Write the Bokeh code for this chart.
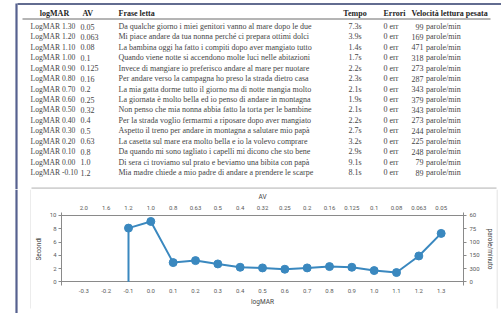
from bokeh.plotting import figure
from bokeh.models import (LinearAxis, Range1d, FixedTicker, ColumnDataSource,
                          NumeralTickFormatter)
from bokeh.layouts import column, row
from bokeh.core.properties import value
from bokeh.embed import file_html
from bokeh.resources import INLINE

# ---------------- data ----------------
logmar = [1.3, 1.2, 1.1, 1.0, 0.9, 0.8, 0.7, 0.6, 0.5, 0.4, 0.3, 0.2, 0.1, 0.0, -0.1]
av = ["0.05", "0.063", "0.08", "0.1", "0.125", "0.16", "0.2", "0.25", "0.32",
      "0.4", "0.5", "0.63", "0.8", "1.0", "1.2"]
sentences = [
    "Da qualche giorno i miei genitori vanno al mare dopo le due",
    "Mi piace andare da tua nonna perché ci prepara ottimi dolci",
    "La bambina oggi ha fatto i compiti dopo aver mangiato tutto",
    "Quando viene notte si accendono molte luci nelle abitazioni",
    "Invece di mangiare io preferisco andare al mare per nuotare",
    "Per andare verso la campagna ho preso la strada dietro casa",
    "La mia gatta dorme tutto il giorno ma di notte mangia molto",
    "La giornata è molto bella ed io penso di andare in montagna",
    "Non penso che mia nonna abbia fatto la torta per le bambine",
    "Per la strada voglio fermarmi a riposare dopo aver mangiato",
    "Aspetto il treno per andare in montagna a salutare mio papà",
    "La casetta sul mare era molto bella e io la volevo comprare",
    "Da quando mi sono tagliato i capelli mi dicono che sto bene",
    "Di sera ci troviamo sul prato e beviamo una bibita con papà",
    "Mia madre chiede a mio padre di andare a prendere le scarpe",
]
tempo = [7.3, 3.9, 1.4, 1.7, 2.2, 2.3, 2.1, 1.9, 2.1, 2.2, 2.7, 3.2, 2.9, 9.1, 8.1]
errori = [0, 0, 0, 0, 0, 0, 0, 0, 0, 0, 0, 0, 0, 0, 0]
velocita = [99, 169, 471, 318, 273, 287, 343, 379, 343, 273, 244, 225, 248, 79, 89]

headers = ["logMAR", "AV", "Frase letta", "Tempo", "Errori", "Velocità lettura pesata"]

logmar_ticks = [-0.3, -0.2, -0.1, 0.0, 0.1, 0.2, 0.3, 0.4, 0.5, 0.6, 0.7, 0.8,
                0.9, 1.0, 1.1, 1.2, 1.3]
av_tick_labels = ["2.0", "1.6", "1.2", "1.0", "0.8", "0.63", "0.5", "0.4", "0.32",
                  "0.25", "0.2", "0.16", "0.125", "0.1", "0.08", "0.063", "0.05"]
sec_ticks = [0, 2, 4, 6, 8, 10]
speed_tick_labels = ["0", "300", "150", "100", "75", "60"]

# ---------------- styles ----------------
BLUE = "#3a88bf"
SERIF = "Liberation Serif"
SANS = "Roboto"
BORDER = "#56618f"
TOPLINE = "#2e3b6b"
BOXLINE = "#d9d9d9"
PAGE_W, PAGE_H = 501, 313
SPLIT_Y = 189          # table / chart boundary
BOX_L, BOX_R, BOX_B = 31, 496, 308


def canvas(w, h, x0, x1, y0, y1):
    f = figure(width=w, height=h, output_backend="svg", toolbar_location=None,
               x_range=Range1d(x0, x1), y_range=Range1d(y1, y0),
               x_axis_location=None, y_axis_location=None, min_border=0)
    f.outline_line_color = None
    f.grid.visible = False
    f.background_fill_color = "white"
    f.border_fill_color = "white"
    return f


# ---------------- table (top) ----------------
tf = canvas(PAGE_W, SPLIT_Y, 0, PAGE_W, 0, SPLIT_Y)
tf.segment(x0=[17, 16], y0=[3.5, 3], x1=[PAGE_W, 16], y1=[3.5, SPLIT_Y],
           line_color=[TOPLINE, BORDER], line_width=[1.6, 2.2])
tf.segment(x0=[22], y0=[18.5], x1=[490], y1=[18.5], line_color="#6a6a6a", line_width=1)
tf.segment(x0=[BOX_L], y0=[188], x1=[BOX_R], y1=[188], line_color="#d2d2d2", line_width=2.5)

ROW0, DROW = 26.0, 10.43
row_y = [ROW0 + i * DROW for i in range(len(logmar))]


def col(texts, X, align="left", size="8px"):
    src = ColumnDataSource(dict(x=[X] * len(texts), y=row_y, t=texts))
    tf.text(x="x", y="y", text="t", source=src, text_font=value(SERIF),
            text_font_size=value(size), text_color="#454545", text_align=align,
            text_baseline="middle")


col([f"LogMAR {v:.2f}" for v in logmar], 30, size="7.6px")
col(av, 80)
col(sentences, 118)
col([f"{t}s" for t in tempo], 354.5, "center")
col([f"{e} err" for e in errori], 383)
col([str(v) for v in velocita], 423, "right")
col(["parole/min" for _ in velocita], 425.5)

head_x = [54, 82, 118, 354.5, 383, 411]
head_align = ["center", "left", "left", "center", "left", "left"]
for txt, X, al in zip(headers, head_x, head_align):
    tf.text(x=[X], y=[12.5], text=[txt], text_font=value(SERIF),
            text_font_size=value("8px"), text_font_style="bold",
            text_color="#1e1e1e", text_align=al, text_baseline="middle")

# ---------------- side strips ----------------
CH_H = BOX_B - SPLIT_Y
lf = canvas(BOX_L, PAGE_H - SPLIT_Y, 0, BOX_L, SPLIT_Y, PAGE_H)
lf.segment(x0=[16, 30.5], y0=[SPLIT_Y, SPLIT_Y], x1=[16, 30.5], y1=[PAGE_H, BOX_B],
           line_color=[BORDER, BOXLINE], line_width=[2.2, 1])

rf = canvas(PAGE_W - BOX_R, PAGE_H - SPLIT_Y, BOX_R, PAGE_W, SPLIT_Y, PAGE_H)
rf.segment(x0=[BOX_R + 0.5], y0=[SPLIT_Y], x1=[BOX_R + 0.5], y1=[BOX_B],
           line_color=BOXLINE, line_width=1)

bf = canvas(BOX_R - BOX_L, PAGE_H - BOX_B, BOX_L, BOX_R, BOX_B, PAGE_H)
bf.segment(x0=[BOX_L], y0=[BOX_B + 0.5], x1=[BOX_R], y1=[BOX_B + 0.5],
           line_color=BOXLINE, line_width=1)

# ---------------- chart ----------------
FX0, FX1, FY0, FY1 = 57, 463, 210, 286
p = figure(width=BOX_R - BOX_L, height=CH_H, output_backend="svg", toolbar_location=None,
           x_range=Range1d(-0.4, 1.4), y_range=Range1d(-0.55, 10.45),
           x_axis_location=None, y_axis_location=None,
           min_border_left=FX0 - BOX_L, min_border_right=BOX_R - FX1,
           min_border_top=FY0 - SPLIT_Y, min_border_bottom=BOX_B - FY1)
p.outline_line_color = None
p.background_fill_color = "white"
p.border_fill_color = "white"


def style_axis(ax):
    ax.major_label_text_font = SANS
    ax.major_label_text_font_size = "6px"
    ax.major_label_text_color = "#5a5a5a"
    ax.axis_label_text_font = SANS
    ax.axis_label_text_font_size = "6.5px"
    ax.axis_label_text_font_style = "normal"
    ax.axis_label_text_color = "#444444"
    ax.minor_tick_line_color = None
    ax.axis_line_color = "#8a8a8a"
    ax.major_tick_line_color = "#8a8a8a"


xb = LinearAxis(ticker=FixedTicker(ticks=logmar_ticks), axis_label="logMAR",
                formatter=NumeralTickFormatter(format="0.0"))
style_axis(xb)
xb.axis_line_color = None
xb.major_tick_line_color = None
xb.major_tick_out = 0
xb.major_tick_in = 0
xb.major_label_standoff = 3
xb.axis_label_standoff = 2
p.add_layout(xb, "below")

xt = LinearAxis(ticker=FixedTicker(ticks=logmar_ticks), axis_label="AV")
style_axis(xt)
xt.major_label_overrides = {t: l for t, l in zip(logmar_ticks, av_tick_labels)}
xt.axis_line_color = None
xt.major_tick_line_color = None
xt.major_tick_out = 0
xt.major_tick_in = 0
xt.major_label_standoff = 3
xt.axis_label_standoff = 2
p.add_layout(xt, "above")

yl = LinearAxis(ticker=FixedTicker(ticks=sec_ticks), axis_label="Secondi")
style_axis(yl)
yl.major_tick_out = 3
yl.major_tick_in = 0
yl.major_label_standoff = 2
yl.axis_label_standoff = 4
p.add_layout(yl, "left")

yr = LinearAxis(ticker=FixedTicker(ticks=sec_ticks), axis_label="parole/minuto")
style_axis(yr)
yr.major_label_overrides = {t: l for t, l in zip(sec_ticks, speed_tick_labels)}
yr.major_tick_out = 3
yr.major_tick_in = 0
yr.major_label_standoff = 3
yr.axis_label_standoff = 3
p.add_layout(yr, "right")

# horizontal reference lines at 0 and 10 s (frame spans slightly beyond)
p.ygrid.ticker = FixedTicker(ticks=[sec_ticks[0], sec_ticks[-1]])
p.ygrid.grid_line_color = "#8a8a8a"
p.xgrid.visible = False

src = ColumnDataSource(dict(x=logmar, y=tempo))
p.segment(x0=[logmar[-1]], y0=[0], x1=[logmar[-1]], y1=[tempo[-1]],
          line_color=BLUE, line_width=2)
p.line("x", "y", source=src, line_color=BLUE, line_width=2)
p.scatter("x", "y", source=src, size=8, fill_color=BLUE, line_color=BLUE)

layout = column(tf, row(lf, column(p, bf), rf))

open("out.html", "w").write(file_html(layout, INLINE))
